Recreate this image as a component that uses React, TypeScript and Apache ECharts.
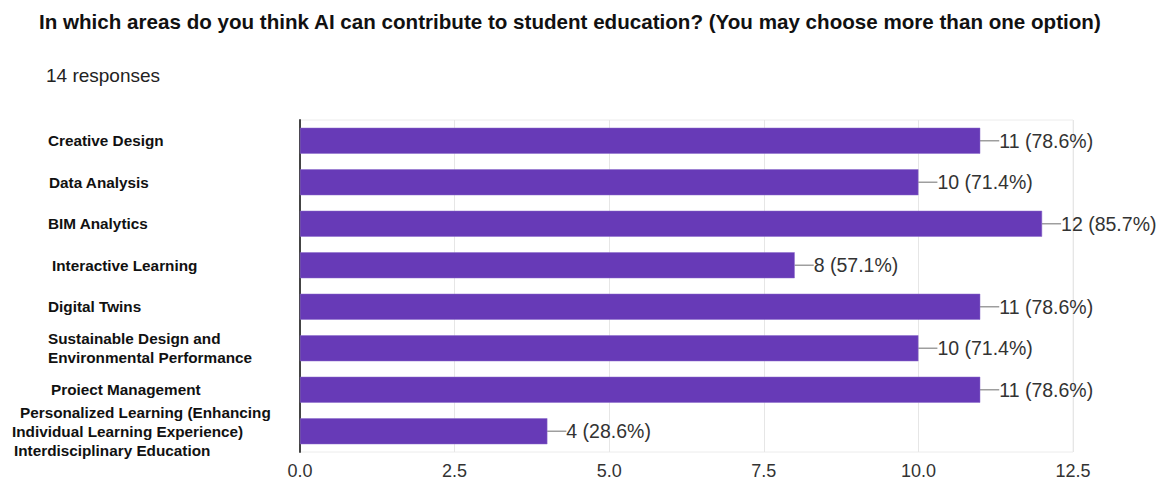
import React, { useEffect, useRef } from "react";
import * as echarts from "echarts";

const titleText =
  "In which areas do you think AI can contribute to student education? (You may choose more than one option)";
const subtitleText = "14 responses";

const categories = [
  "Creative Design",
  "Data Analysis",
  "BIM Analytics",
  "Interactive Learning",
  "Digital Twins",
  "Sustainable Design and\nEnvironmental Performance",
  "Proiect Management",
  "Personalized Learning (Enhancing\nIndividual Learning Experience)\nInterdisciplinary Education",
];
const counts = [11, 10, 12, 8, 11, 10, 11, 4];
const percents = ["78.6", "71.4", "85.7", "57.1", "78.6", "71.4", "78.6", "28.6"];
const xTicks = [0, 2.5, 5, 7.5, 10, 12.5];

// per-line left indents (px) for the category labels
const indents: Record<string, number[]> = {
  "Creative Design": [36],
  "Data Analysis": [37],
  "BIM Analytics": [36],
  "Interactive Learning": [40],
  "Digital Twins": [36],
  "Sustainable Design and\nEnvironmental Performance": [36, 36],
  "Proiect Management": [39],
  "Personalized Learning (Enhancing\nIndividual Learning Experience)\nInterdisciplinary Education": [8, 0, 2],
};

const font = "'Liberation Sans', Arial, Helvetica, sans-serif";

export default function App() {
  const ref = useRef<HTMLDivElement>(null);
  useEffect(() => {
    if (!ref.current) return;
    const chart = echarts.init(ref.current, undefined, { renderer: "svg" });
    const rich: Record<string, any> = {};
    [0, 1, 2, 8, 36, 37, 39, 40].forEach((p) => {
      rich["p" + p] = {
        fontFamily: font,
        fontSize: 15.3,
        fontWeight: "bold",
        color: "#111",
        padding: [0, 0, 0, p],
        lineHeight: 19,
      };
    });
    chart.setOption({
      animation: false,
      backgroundColor: "#ffffff",
      title: [
        {
          text: titleText,
          left: 34,
          top: 6,
          textStyle: { fontFamily: font, fontSize: 20.6, fontWeight: "bold", color: "#111" },
        },
        {
          text: subtitleText,
          left: 41,
          top: 61,
          textStyle: { fontFamily: font, fontSize: 19, fontWeight: "normal", color: "#222" },
        },
      ],
      grid: {
        left: 300,
        right: 85,
        top: 120,
        bottom: 31,
        show: true,
        borderColor: "#ececec",
        borderWidth: 1,
      },
      xAxis: {
        type: "value",
        min: 0,
        max: 12.5,
        interval: 2.5,
        axisLine: { show: false },
        axisTick: { show: false },
        splitLine: { show: true, lineStyle: { color: "#e6e6e6", width: 1 } },
        axisLabel: {
          margin: 10,
          fontFamily: font,
          fontSize: 18,
          color: "#333",
          formatter: (v: number) => (xTicks.includes(v) ? v.toFixed(1) : ""),
        },
      },
      yAxis: {
        type: "category",
        data: categories,
        inverse: true,
        axisLine: { show: true, lineStyle: { color: "#444", width: 2 } },
        axisTick: { show: false },
        splitLine: { show: false },
        axisLabel: {
          align: "left",
          margin: 288,
          formatter: (v: string) => {
            const lines = v.split("\n");
            const ind = indents[v] || [36];
            return lines.map((l, i) => `{p${ind[i] ?? 36}|${l}}`).join("\n");
          },
          rich,
        },
      },
      series: [
        {
          type: "bar",
          data: counts,
          barWidth: 26,
          itemStyle: { color: "#673ab7", borderColor: "#8a6acb", borderWidth: 0.5 },
          label: {
            show: true,
            position: "right",
            distance: 0,
            fontFamily: font,
            fontSize: 19.5,
            color: "#333",
            formatter: (p: any) => `${p.value} (${percents[p.dataIndex]}%)`,
          },
          labelLayout: { dx: 19 },
          labelLine: { show: true, lineStyle: { color: "#9e9e9e", width: 1.5 } },
        },
      ],
    });
    return () => chart.dispose();
  }, []);
  return (
    <div
      ref={ref}
      style={{ position: "absolute", left: 0, top: 0, width: 1158, height: 483 }}
    />
  );
}
